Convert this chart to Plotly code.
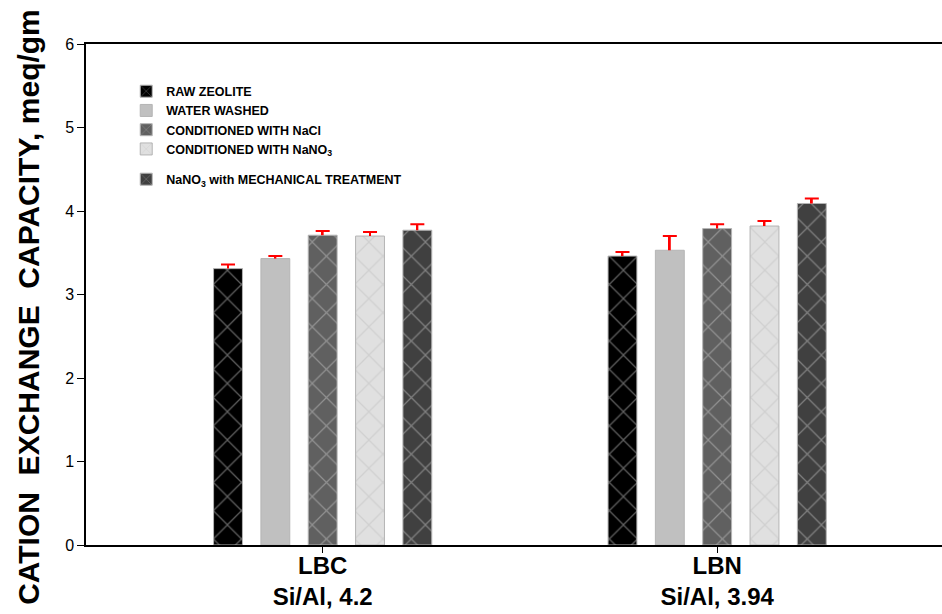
import plotly.graph_objects as go

categories = ["LBC<br>Si/Al, 4.2", "LBN<br>Si/Al, 3.94"]
series_names = [
    "RAW ZEOLITE",
    "WATER WASHED",
    "CONDITIONED WITH NaCl",
    "CONDITIONED WITH NaNO<sub>3</sub>",
    "NaNO<sub>3</sub> with MECHANICAL TREATMENT",
]
raw_zeolite = [3.31, 3.46]
water_washed = [3.43, 3.53]
cond_nacl = [3.71, 3.79]
cond_nano3 = [3.70, 3.82]
nano3_mech = [3.77, 4.09]

err_raw = [0.05, 0.05]
err_water = [0.03, 0.17]
err_nacl = [0.05, 0.05]
err_nano3 = [0.05, 0.06]
err_mech = [0.07, 0.06]

y_ticks = [0, 1, 2, 3, 4, 5, 6]
y_title = "CATION\u00a0\u00a0EXCHANGE\u00a0\u00a0CAPACITY, meq/gm"

values = [raw_zeolite, water_washed, cond_nacl, cond_nano3, nano3_mech]
errors = [err_raw, err_water, err_nacl, err_nano3, err_mech]
colors = ["#000000", "#c0c0c0", "#606060", "#e0e0e0", "#404040"]
patterns = ["x", "", "x", "x", "x"]
groups = ["a", "a", "a", "a", "b"]

tick_text = ["<br>".join(f"<b>{part}</b>" for part in c.split("<br>")) for c in categories]

fig = go.Figure()
for i, (name, vals, col, pat, grp) in enumerate(zip(series_names, values, colors, patterns, groups)):
    marker = dict(color=col, line=dict(color="#b4b4b4", width=1))
    if pat:
        marker["pattern"] = dict(shape=pat, fgcolor="#c0c0c0", size=20, solidity=0.12)
    fig.add_trace(go.Bar(
        x=categories, y=vals, name=name, marker=marker, offsetgroup=str(i),
        legendgroup=grp,
    ))

# upper-only error bars: thin red stems from bar top with a cap at the end
for i, (vals, errs) in enumerate(zip(values, errors)):
    fig.add_trace(go.Bar(
        x=categories, y=errs, base=vals, offsetgroup=str(i), width=0.005,
        marker=dict(color="red", line=dict(width=0)), showlegend=False,
        hoverinfo="skip",
        error_y=dict(type="data", array=[0] * len(errs), color="red",
                     thickness=2, width=7),
    ))

fig.add_annotation(
    text=y_title, textangle=-90, xref="paper", yref="paper",
    x=-0.068, y=0.475, xanchor="center", yanchor="middle", showarrow=False,
    font=dict(size=30, weight="bold", family="Arial, Liberation Sans, sans-serif"),
)

fig.update_layout(
    width=942, height=614,
    margin=dict(l=86, r=0, t=44, b=69),
    paper_bgcolor="white", plot_bgcolor="white",
    barmode="group", bargap=0.4, bargroupgap=0.39,
    font=dict(family="Arial, Liberation Sans, sans-serif", color="black"),
    showlegend=True,
    legend=dict(
        x=0.047, y=0.935, xanchor="left", yanchor="top",
        font=dict(size=12.5, weight="bold"), bgcolor="rgba(0,0,0,0)",
        tracegroupgap=11, itemwidth=30,
    ),
    xaxis=dict(
        range=[-0.6, 1.57], showline=True, linecolor="black", linewidth=1.5,
        mirror=True, ticks="outside", ticklen=6, tickcolor="black",
        tickvals=categories, ticktext=tick_text,
        tickfont=dict(size=24, weight="bold"), showgrid=False, zeroline=False,
        automargin=False, ticklabelstandoff=-8,
    ),
    yaxis=dict(
        range=[0, 6], tickvals=y_ticks, showline=True, linecolor="black", linewidth=1.5,
        ticks="outside", ticklen=7, tickcolor="black", tickfont=dict(size=16),
        showgrid=False, zeroline=False, automargin=False,
    ),
)

fig.write_html("out.html")
